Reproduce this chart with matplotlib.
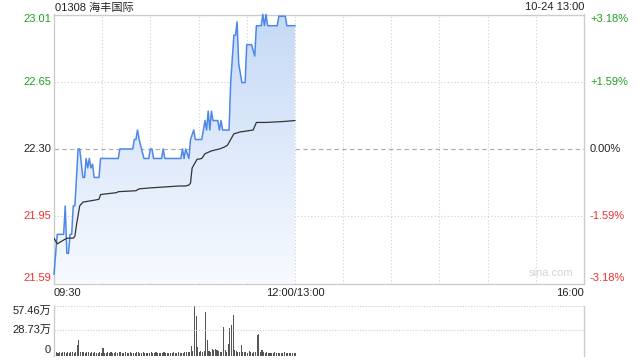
import matplotlib
matplotlib.use("Agg")
import matplotlib.pyplot as plt
import matplotlib.transforms as mtransforms
import numpy as np
from matplotlib.patches import Polygon
from matplotlib.colors import LinearSegmentedColormap

plt.rcParams['font.family'] = ['Liberation Sans', 'Noto Sans CJK SC', 'DejaVu Sans']

PREV_CLOSE = 22.30
Y_LOW, Y_HIGH = 21.591, 23.009

# minutes since 09:30 (trading minutes, lunch break removed)
price_min = [0, 2, 6, 7, 8, 9, 10, 11, 12, 13, 15, 16, 18, 19, 20, 21, 22, 23, 24, 25, 28, 29,
             40, 41, 49, 50, 51, 52, 53, 56, 59, 60, 61, 62, 67, 68, 69, 79, 80, 81, 82, 84,
             85, 87, 88, 92, 94, 95, 96, 97, 98, 99, 102, 103, 104, 105, 109, 110, 112, 113,
             114, 115, 117, 119, 120, 123, 125, 126, 129, 130, 131, 132, 133, 139, 140, 144,
             145, 150]
price = [21.64, 21.85, 21.85, 22.00, 21.75, 21.75, 21.85, 21.85, 22.00, 22.00, 22.30, 22.30,
         22.15, 22.15, 22.25, 22.20, 22.25, 22.20, 22.22, 22.15, 22.15, 22.25,
         22.25, 22.30, 22.30, 22.35, 22.35, 22.40, 22.35, 22.25, 22.25, 22.30, 22.30, 22.25,
         22.25, 22.30, 22.25, 22.25, 22.30, 22.25, 22.30, 22.25,
         22.35, 22.40, 22.35, 22.35, 22.45, 22.40, 22.50, 22.40, 22.50, 22.45, 22.45, 22.40,
         22.45, 22.40, 22.40, 22.65, 22.90, 22.90,
         22.97, 22.75, 22.65, 22.65, 22.85, 22.85, 22.79, 22.95, 22.95, 23.01, 22.95, 23.01,
         22.95, 22.95, 23.00, 23.00, 22.95, 22.95]

avg_min = [0, 2, 4, 6, 8, 12, 13, 14, 15, 16, 18, 25, 28, 29, 39, 40, 51, 53, 60, 78, 82, 84,
           85, 86, 89, 92, 94, 98, 103, 106, 108, 110, 112, 116, 120, 124, 126, 132, 143, 150]
avg_price = [21.83, 21.80, 21.81, 21.82, 21.83, 21.83, 21.84, 21.90, 21.95, 22.00, 22.02,
             22.03, 22.035, 22.06, 22.07, 22.075, 22.08, 22.09, 22.095, 22.105, 22.105, 22.11,
             22.12, 22.20, 22.245, 22.25, 22.275, 22.29, 22.30, 22.31, 22.32, 22.35, 22.38,
             22.39, 22.395, 22.40, 22.44, 22.44, 22.445, 22.45]

# volume per minute, in 万 shares
volume = [3.5, 2.0, 1.2, 2.4, 1.0, 1.5, 2.2, 1.1, 1.8, 0.9,
          1.6, 2.3, 1.2, 1.4, 10.8, 15.7, 2.1, 1.3, 1.8, 1.0,
          1.4, 2.0, 0.9, 1.5, 1.2, 2.2, 1.1, 0.8, 1.6, 1.0,
          6.3, 1.2, 0.9, 1.4, 1.0, 1.7, 0.8, 1.2, 1.5, 0.9,
          1.3, 2.0, 1.0, 0.8, 1.4, 1.1, 0.9, 1.6, 1.0, 1.2,
          0.8, 1.3, 1.5, 0.9, 1.1, 1.4, 0.8, 1.2, 1.0, 0.9,
          1.3, 0.8, 1.1, 1.4, 0.9, 1.0, 1.2, 0.8, 1.5, 1.0,
          0.9, 1.2, 1.1, 0.8, 1.3, 1.0, 0.9, 1.4, 1.1, 1.2,
          1.0, 1.5, 1.3, 2.0, 2.4, 8.8, 3.0, 57.46, 45.3, 7.5,
          2.2, 2.8, 1.9, 3.1, 50.1, 15.7, 3.6, 2.0, 6.0, 4.8,
          6.0, 4.8, 2.5, 1.8, 2.2, 31.9, 4.8, 2.0, 11.7, 30.7,
          34.8, 46.1, 4.8, 3.5, 2.0, 1.6, 10.8, 2.4, 1.5, 1.8,
          1.2, 3.5, 1.4, 1.0, 1.6, 1.3, 21.8, 23.0, 1.7, 4.8,
          1.3, 1.0, 1.5, 0.9, 1.2, 1.1, 0.8, 1.4, 1.0, 0.9,
          1.2, 0.8, 1.0, 1.3, 0.9, 1.1, 0.8, 1.2, 1.0, 0.9,
          0.7]
VOL_MAX = 57.46

left_labels = ["23.01", "22.65", "22.30", "21.95", "21.59"]
right_labels = ["+3.18%", "+1.59%", "0.00%", "-1.59%", "-3.18%"]
label_colors = ["#1ea01e", "#1ea01e", "#222222", "#f03030", "#f03030"]

GREEN = "#1ea01e"
BLUE = "#4d88e8"
GRID = "#cfcfcf"
BORDER = "#cccccc"

W, H = 640, 360
fig = plt.figure(figsize=(6.4, 3.6), dpi=100)
ax = fig.add_axes([54 / W, 1 - 283.5 / H, 530 / W, (283.5 - 14.5) / H])
ax.set_xlim(0, 330)
ax.set_ylim(Y_LOW, Y_HIGH)
ax.set_xticks([])
ax.set_yticks([])
for s in ax.spines.values():
    s.set_color(BORDER)
    s.set_linewidth(1)

# grid
for gx in range(30, 330, 30):
    ax.axvline(gx, color=GRID, lw=0.8, ls=(0, (1, 2)), zorder=1)
levels = np.linspace(Y_LOW, Y_HIGH, 5)
for i, gy in enumerate(levels[1:-1]):
    if abs(gy - PREV_CLOSE) < 0.01:
        ax.axhline(gy, color="#aaaaaa", lw=0.8, ls=(0, (4, 3)), zorder=1)
    else:
        ax.axhline(gy, color=GRID, lw=0.8, ls=(0, (1, 2)), zorder=1)

# gradient area under price line
verts = list(zip(price_min, price)) + [(price_min[-1], Y_LOW), (price_min[0], Y_LOW)]
poly = Polygon(verts, closed=True, facecolor="none", edgecolor="none")
ax.add_patch(poly)
cmap = LinearSegmentedColormap.from_list("fill", ["#f7faff", "#c5d9f6"])
grad = np.linspace(0, 1, 256).reshape(-1, 1)
im = ax.imshow(grad, cmap=cmap, extent=[0, 150, Y_LOW, Y_HIGH], origin="lower",
               aspect="auto", zorder=2)
im.set_clip_path(poly)
ax.set_xlim(0, 330)
ax.set_ylim(Y_LOW, Y_HIGH)

ax.plot(price_min, price, color=BLUE, lw=1.1, zorder=4, clip_on=False)
ax.plot(avg_min, avg_price, color="#333333", lw=0.9, zorder=5)

# axis labels
tl = mtransforms.blended_transform_factory(ax.transAxes, ax.transData)
for i, (lv, la, ra, c) in enumerate(zip(levels[::-1], left_labels, right_labels, label_colors)):
    va = "center"
    if i == 0:
        va = "top"
    elif i == 4:
        va = "bottom"
    ax.text(-3 / 530, lv, la, transform=tl, ha="right", va=va, color=c, fontsize=8)
    ax.text(1 + 6 / 530, lv, ra, transform=tl, ha="left", va=va, color=c, fontsize=8)

xt = mtransforms.blended_transform_factory(ax.transData, ax.transAxes)
ax.text(0, -9 / 269, "09:30", transform=xt, ha="left", va="center", fontsize=8, color="#222222")
ax.text(150, -9 / 269, "12:00/13:00", transform=xt, ha="center", va="center", fontsize=8, color="#222222")
ax.text(330, -9 / 269, "16:00", transform=xt, ha="right", va="center", fontsize=8, color="#222222")

ax.text(0.9375, 0.02, "sina.com", transform=ax.transAxes, ha="center", va="bottom",
        fontsize=8, color="#d4d4d4")

fig.text(55 / W, 1 - 7.5 / H, "01308 海丰国际", ha="left", va="center", fontsize=8, color="#222222")
fig.text(584 / W, 1 - 7.5 / H, "10-24 13:00", ha="right", va="center", fontsize=8, color="#222222")

# volume panel
VOL_LOW = -3.0
vax = fig.add_axes([54 / W, 1 - 356 / H, 530 / W, (356 - 305.7) / H])
vax.set_xlim(0, 330)
vax.set_ylim(VOL_LOW, VOL_MAX)
vax.set_xticks([])
vax.set_yticks([])
for name, s in vax.spines.items():
    s.set_color(BORDER)
    s.set_linewidth(1)
    if name in ("top", "bottom"):
        s.set_visible(False)
vax.axhline(VOL_MAX, color=GRID, lw=0.8, ls=(0, (1, 1.5)))
vax.axhline(VOL_MAX / 2, color=GRID, lw=0.8, ls=(0, (1, 1.5)))
vmins = np.arange(len(volume))
vax.bar(vmins + 0.5, np.array(volume) - VOL_LOW, bottom=VOL_LOW, width=0.65,
        color="#555555", linewidth=0)

vt = mtransforms.blended_transform_factory(vax.transAxes, vax.transData)
vax.text(-3 / 530, VOL_MAX, "57.46万", transform=vt, ha="right", va="top", fontsize=8, color="#222222")
vax.text(-3 / 530, VOL_MAX / 2, "28.73万", transform=vt, ha="right", va="center", fontsize=8, color="#222222")
vax.text(-3 / 530, 4.5, "0", transform=vt, ha="right", va="center", fontsize=8, color="#222222")

fig.savefig("out.png", dpi=100)
